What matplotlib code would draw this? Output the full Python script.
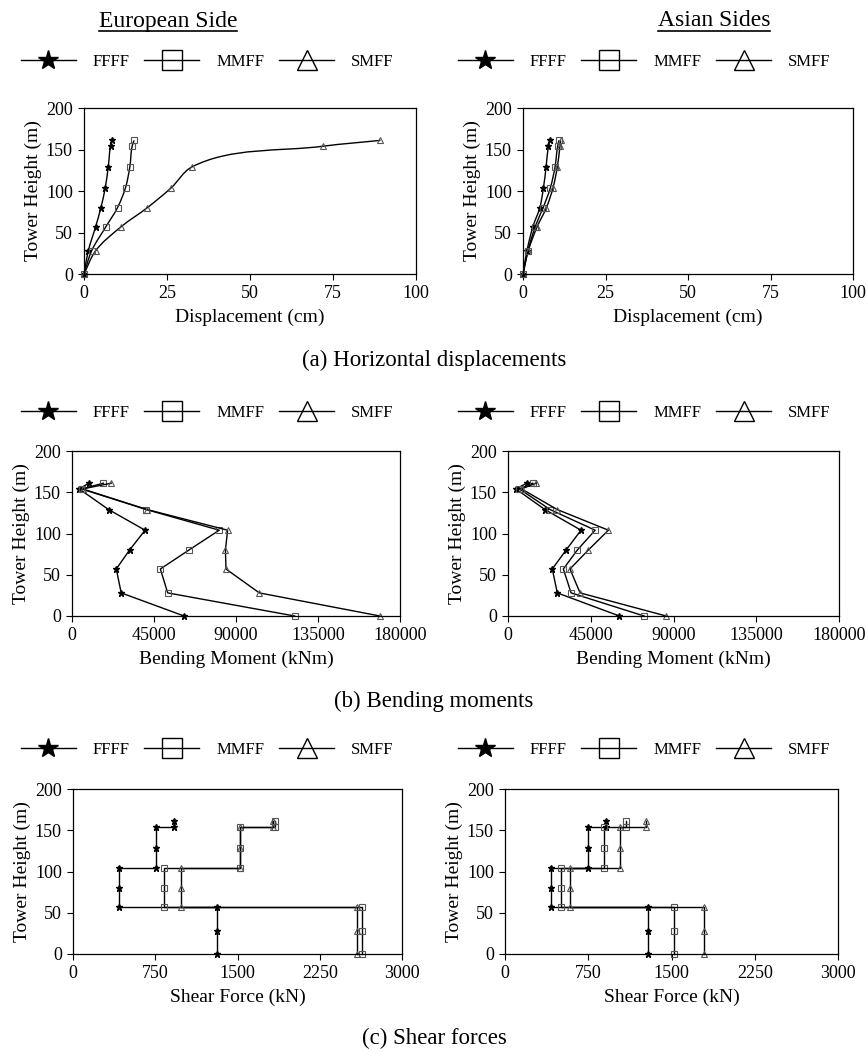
import numpy as np
import matplotlib
matplotlib.use('Agg')
import matplotlib.pyplot as plt
from matplotlib.path import Path
from matplotlib.patches import PathPatch
from matplotlib.lines import Line2D

plt.rcParams['font.family'] = ['Liberation Serif', 'DejaVu Serif']

W, H = 868, 1052

# tower heights (m)
heights = [0, 28, 57, 80, 104, 129, 154, 161]
shear_heights = [0, 28, 57, 57, 80, 104, 104, 129, 154, 154, 161]

# (a) horizontal displacements (cm)
disp_eu_ffff = [0, 1.3, 3.5, 5.1, 6.4, 7.3, 8.0, 8.5]
disp_eu_mmff = [0, 2.3, 6.6, 10.1, 12.5, 13.8, 14.5, 15.1]
disp_eu_smff = [0, 3.5, 11.2, 19.1, 26.3, 32.5, 72.1, 89.3]
disp_as_ffff = [0, 1.2, 3.0, 5.1, 6.2, 7.0, 7.7, 8.1]
disp_as_mmff = [0, 1.5, 3.7, 6.1, 8.3, 9.7, 10.5, 10.9]
disp_as_smff = [0, 1.6, 4.3, 7.1, 9.1, 10.4, 11.2, 11.4]

# (b) bending moments (kNm)
mom_eu_ffff = [61500, 27000, 24300, 31600, 40100, 20100, 4000, 9200]
mom_eu_mmff = [122200, 52500, 48500, 64200, 80800, 40800, 5300, 17200]
mom_eu_smff = [169000, 102800, 84500, 84200, 85400, 41300, 5800, 21600]
mom_as_ffff = [60600, 26800, 24100, 31600, 39700, 20100, 4300, 10200]
mom_as_mmff = [74000, 34300, 30100, 37700, 47400, 22900, 6200, 13400]
mom_as_smff = [86000, 39200, 33700, 43700, 54600, 26800, 7400, 15200]

# (c) shear forces (kN)
shear_eu_ffff = [1309, 1309, 1309, 422, 422, 422, 759, 759, 759, 923, 923]
shear_eu_mmff = [2632, 2632, 2632, 832, 832, 832, 1527, 1527, 1527, 1843, 1843]
shear_eu_smff = [2587, 2587, 2587, 984, 984, 984, 1527, 1527, 1527, 1822, 1822]
shear_as_ffff = [1290, 1290, 1290, 411, 411, 411, 752, 752, 752, 913, 913]
shear_as_mmff = [1527, 1527, 1527, 505, 505, 505, 891, 891, 891, 1089, 1089]
shear_as_smff = [1792, 1792, 1792, 590, 590, 590, 1038, 1038, 1038, 1269, 1269]

names = ['FFFF', 'MMFF', 'SMFF']
markers = ['*', 's', '^']


def rect(x0, x1, y0, y1):
    return [x0 / W, 1 - y1 / H, (x1 - x0) / W, (y1 - y0) / H]


def smooth_path(x, y, sx, sy):
    # smoothed line through the data points, worked out in pixel space
    s = np.array([sx, sy])
    q = np.column_stack([x, y]).astype(float) * s
    n = len(q)
    seg = np.diff(q, axis=0)
    d = np.hypot(seg[:, 0], seg[:, 1])
    u = seg / d[:, None]
    t = []
    for i in range(n):
        v = (u[i - 1] if i > 0 else 0) + (u[i] if i < n - 1 else 0)
        t.append(v / np.hypot(*v))
    verts = [q[0]]
    codes = [Path.MOVETO]
    for i in range(n - 1):
        c1 = q[i] + t[i] * d[i] / 3
        c2 = q[i + 1] - t[i + 1] * d[i] / 3
        verts += [c1, c2, q[i + 1]]
        codes += [Path.CURVE4] * 3
    return Path(np.array(verts) / s, codes)


def mstyle(k):
    if k == 0:
        return dict(marker='*', ms=5, mfc='black', mec='black')
    return dict(marker=markers[k], ms=5, mfc='none', mec='#555555', mew=0.8)


def setup(ax, xmax, xticks, xlabel):
    ax.set_xlim(0, xmax)
    ax.set_ylim(0, 200)
    ax.set_xticks(xticks)
    ax.set_yticks([0, 50, 100, 150, 200])
    ax.tick_params(direction='out', length=4, labelsize=13, width=0.8, pad=4)
    ax.set_xlabel(xlabel, fontsize=14, labelpad=5)
    ax.set_ylabel('Tower Height (m)', fontsize=14, labelpad=3)
    for s in ax.spines.values():
        s.set_linewidth(0.9)


fig = plt.figure(figsize=(W / 100, H / 100), dpi=100)

# (a)
for rc, series in [((84, 416, 108, 274), [disp_eu_ffff, disp_eu_mmff, disp_eu_smff]),
                   ((523, 853, 108, 274), [disp_as_ffff, disp_as_mmff, disp_as_smff])]:
    ax = fig.add_axes(rect(*rc))
    sx = (rc[1] - rc[0]) / 100
    sy = (rc[3] - rc[2]) / 200
    for k, xs in enumerate(series):
        ax.add_patch(PathPatch(smooth_path(xs, heights, sx, sy), fill=False, lw=1, ec='black'))
        ax.plot(xs, heights, ls='none', clip_on=False, **mstyle(k))
    setup(ax, 100, [0, 25, 50, 75, 100], 'Displacement (cm)')

# (b)
for rc, series in [((72, 400, 451, 616), [mom_eu_ffff, mom_eu_mmff, mom_eu_smff]),
                   ((508, 839, 451, 616), [mom_as_ffff, mom_as_mmff, mom_as_smff])]:
    ax = fig.add_axes(rect(*rc))
    for k, xs in enumerate(series):
        ax.plot(xs, heights, color='black', lw=1, clip_on=False, **mstyle(k))
    setup(ax, 180000, [0, 45000, 90000, 135000, 180000], 'Bending Moment (kNm)')

# (c)
for rc, series in [((73, 402, 789, 954), [shear_eu_ffff, shear_eu_mmff, shear_eu_smff]),
                   ((505, 838, 789, 954), [shear_as_ffff, shear_as_mmff, shear_as_smff])]:
    ax = fig.add_axes(rect(*rc))
    for k, xs in enumerate(series):
        ax.plot(xs, shear_heights, color='black', lw=1, clip_on=False, **mstyle(k))
    setup(ax, 3000, [0, 750, 1500, 2250, 3000], 'Shear Force (kN)')

# legends
handles = [
    Line2D([], [], color='black', lw=1, marker='*', ms=15, mfc='black', mec='black'),
    Line2D([], [], color='black', lw=1, marker='s', ms=15, mfc='none', mec='black'),
    Line2D([], [], color='black', lw=1, marker='^', ms=14, mfc='none', mec='black'),
]
for ly in [62, 413, 750]:
    for lx in [207, 644]:
        fig.legend(handles, names, loc='center', bbox_to_anchor=(lx / W, 1 - ly / H),
                   ncol=3, frameon=False, fontsize=12, handlelength=3.3,
                   handletextpad=1.0, columnspacing=0.9, borderpad=0)

# headings (underlined) and captions
heads = []
for hx, txt in [(168, 'European Side'), (714, 'Asian Sides')]:
    heads.append(fig.text(hx / W, 1 - 21 / H, txt, fontsize=17, ha='center', va='center'))
for cy, txt in [(360, '(a) Horizontal displacements'), (701, '(b) Bending moments'),
                (1038, '(c) Shear forces')]:
    fig.text(434 / W, 1 - cy / H, txt, fontsize=16.5, ha='center', va='center')

fig.canvas.draw()
r = fig.canvas.get_renderer()
for t in heads:
    bb = t.get_window_extent(r)
    yy = (bb.y0 + 1) / H
    fig.add_artist(Line2D([bb.x0 / W, bb.x1 / W], [yy, yy], color='black', lw=1.2))

fig.savefig('out.png', dpi=100)
